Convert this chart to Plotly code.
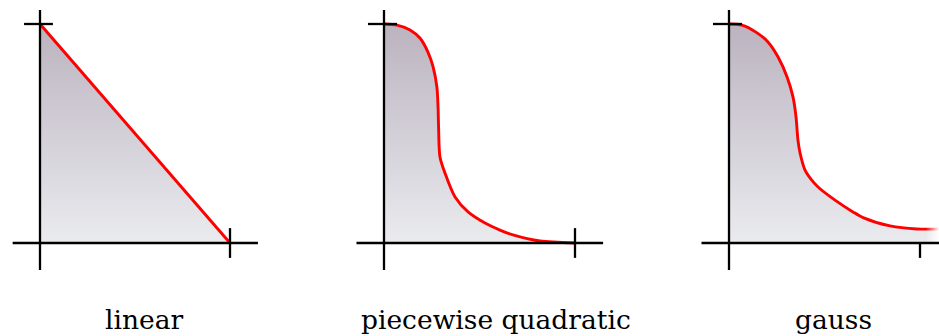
import plotly.graph_objects as go

# Kernel profiles: distance from the centre (0..1) against weight
titles = ["linear", "piecewise quadratic", "gauss"]

linear_x = [0.0, 1.0]
linear_y = [1.0, 0.0]

pquad_x = [0.0, 0.068, 0.136, 0.188, 0.230, 0.257, 0.277, 0.283, 0.286,
           0.293, 0.319, 0.372, 0.440, 0.529, 0.607, 0.675, 0.817, 1.0]
pquad_y = [1.0, 0.995, 0.973, 0.936, 0.872, 0.804, 0.712, 0.621, 0.520,
           0.393, 0.320, 0.210, 0.142, 0.091, 0.059, 0.037, 0.009, 0.0]

gauss_x = [0.0, 0.068, 0.141, 0.204, 0.257, 0.304, 0.335, 0.351, 0.357,
           0.361, 0.372, 0.398, 0.429, 0.466, 0.555, 0.649, 0.702, 0.843,
           0.984, 1.10]
gauss_y = [1.0, 0.995, 0.963, 0.918, 0.849, 0.758, 0.667, 0.575, 0.510,
           0.470, 0.411, 0.333, 0.292, 0.256, 0.196, 0.142, 0.116, 0.078,
           0.064, 0.064]

series = [(linear_x, linear_y), (pquad_x, pquad_y), (gauss_x, gauss_y)]

W, H = 939, 336
origins = [40, 384, 729]      # pixel of x = 0 in each panel
units = [190, 191, 191]       # pixels per unit along x
splits = [0, 313, 626, 939]   # panel boundaries
y0_px, y_unit = 243, 219      # pixel of y = 0, pixels per unit along y

FILL_TOP = "rgb(187,179,191)"
FILL_BOTTOM = "rgb(234,235,239)"
RED = "rgb(255,0,0)"
BLACK = "black"

fig = go.Figure()
shapes = []
annotations = []

for i, ((xs, ys), title) in enumerate(zip(series, titles)):
    sfx = "" if i == 0 else str(i + 1)
    xref, yref = "x" + sfx, "y" + sfx
    fig.add_trace(go.Scatter(
        x=xs, y=ys, xaxis=xref, yaxis=yref, mode="lines",
        line=dict(color=RED, width=2.9, shape="spline", smoothing=0.8),
        fill="tozeroy",
        fillgradient=dict(type="vertical", start=0, stop=1,
                          colorscale=[[0, FILL_BOTTOM], [1, FILL_TOP]]),
        hoverinfo="skip", showlegend=False,
    ))

    x_end = 1.2 if i == 2 else 1.147
    ax = dict(type="line", xref=xref, yref=yref, layer="above",
              line=dict(color=BLACK, width=2.3))
    # vertical axis
    shapes.append({**ax, "x0": 0, "x1": 0, "y0": -0.123, "y1": 1.064})
    # horizontal axis
    shapes.append({**ax, "x0": -0.144, "x1": x_end, "y0": 0, "y1": 0})
    # tick at y = 1
    shapes.append({**ax, "x0": -0.084, "x1": 0.068, "y0": 1, "y1": 1})
    # tick at x = 1
    shapes.append({**ax, "x0": 1, "x1": 1,
                   "y0": 0 if i == 2 else 0.068, "y1": -0.068})

    annotations.append(dict(
        text=title, xref=xref, yref="paper",
        x=[0.55, 0.584, 0.545][i], y=1 - 319 / H,
        xanchor="center", yanchor="middle", showarrow=False,
        font=dict(family="DejaVu Serif", size=26.5, color="black"),
    ))

    d0, d1 = splits[i] / W, splits[i + 1] / W
    xr = [(splits[i] - origins[i]) / units[i], (splits[i + 1] - origins[i]) / units[i]]
    yr = [-(H - y0_px) / y_unit, y0_px / y_unit]
    fig.update_layout(**{
        "xaxis" + sfx: dict(domain=[d0, d1], range=xr, visible=False, fixedrange=True),
        "yaxis" + sfx: dict(domain=[0, 1], range=yr, visible=False, fixedrange=True,
                            anchor=xref),
    })

# the gauss tail runs off the right edge and fades out
fig.add_trace(go.Scatter(
    x=[1.03, 1.11, 1.11, 1.03, 1.03], y=[0.004, 0.004, 0.12, 0.12, 0.004],
    xaxis="x3", yaxis="y3", mode="none", fill="toself",
    fillgradient=dict(type="horizontal", start=1.03, stop=1.10,
                      colorscale=[[0, "rgba(255,255,255,0)"], [1, "rgba(255,255,255,1)"]]),
    hoverinfo="skip", showlegend=False,
))

fig.update_layout(
    width=W, height=H, margin=dict(l=0, r=0, t=0, b=0),
    paper_bgcolor="white", plot_bgcolor="white",
    shapes=shapes, annotations=annotations,
)

fig.write_html("out.html")
